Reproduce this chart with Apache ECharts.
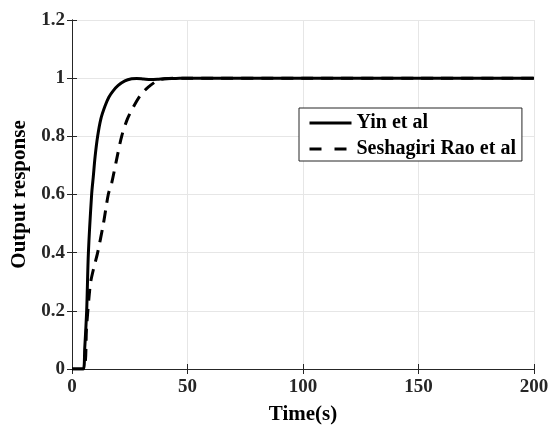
<!DOCTYPE html>
<html>
<head>
<meta charset="utf-8">
<script src="https://cdn.jsdelivr.net/npm/echarts@6/dist/echarts.min.js"></script>
<style>html,body{margin:0;padding:0;background:#fff}#c{width:557px;height:430px}</style>
</head>
<body>
<div id="c"></div>
<script>
var seriesNames = ['Yin et al', 'Seshagiri Rao et al'];
var yinTime = [0, 4.9, 5.5, 6.35, 7.1, 8.5, 9.2, 10, 11.1, 12.5, 14.3, 16, 17.9, 20, 22.9, 25.8, 28, 31, 34, 37, 40, 45, 50, 100, 150, 200];
var yinValue = [0, 0, 0.07, 0.2, 0.4, 0.6, 0.66, 0.73, 0.8, 0.86, 0.904, 0.935, 0.957, 0.975, 0.991, 0.998, 0.999, 0.997, 0.995, 0.996, 0.998, 0.999, 1.0, 1.0, 1.0, 1.0];
var raoTime = [0, 4.9, 6.35, 7.4, 8.1, 9.5, 11.1, 13.6, 15.7, 17.2, 19.3, 21.5, 24, 26.5, 29.5, 33, 37.4, 42, 50, 100, 150, 200];
var raoValue = [0, 0, 0.15, 0.25, 0.3, 0.35, 0.4, 0.5, 0.6, 0.64, 0.72, 0.8, 0.86, 0.9, 0.94, 0.969, 0.993, 0.999, 1, 1, 1, 1];
var xTicks = [0, 50, 100, 150, 200];
var yTicks = [0, 0.2, 0.4, 0.6, 0.8, 1, 1.2];

function pairs(t, v) { return t.map(function (x, i) { return [x, v[i]]; }); }

var font = 'Liberation Serif, Times New Roman, serif';
var chart = echarts.init(document.getElementById('c'), null, {renderer: 'canvas'});
var axisLine = {show: true, lineStyle: {color: '#262626', width: 1}};
chart.setOption({
  animation: false,
  backgroundColor: '#fff',
  grid: {left: 72, right: 23, top: 20, bottom: 57, containLabel: false},
  legend: {
    orient: 'vertical', left: 299, top: 108,
    padding: [5, 6, 2, 9],
    itemWidth: 42, itemHeight: 20, itemGap: 6,
    borderColor: '#262626', borderWidth: 1, backgroundColor: '#fff',
    itemStyle: {opacity: 0, borderWidth: 0},
    lineStyle: {width: 3, color: '#000'},
    textStyle: {fontFamily: font, fontWeight: 'bold', fontSize: 20, color: '#000', lineHeight: 20},
    data: [{name: seriesNames[0]}, {name: seriesNames[1], lineStyle: {type: [12, 13], width: 3, color: '#000'}}]
  },
  xAxis: [{
    type: 'value', min: xTicks[0], max: xTicks[xTicks.length - 1], interval: 50,
    name: 'Time(s)', nameLocation: 'middle', nameGap: 35,
    nameTextStyle: {fontFamily: font, fontWeight: 'bold', fontSize: 21, color: '#000'},
    axisLine: axisLine,
    axisTick: {show: true, inside: true, length: 5, lineStyle: {color: '#262626'}},
    axisLabel: {fontFamily: font, fontWeight: 'bold', fontSize: 19, color: '#262626', margin: 9},
    splitLine: {show: true, lineStyle: {color: '#e6e6e6', width: 1}}
  }, {
    type: 'value', position: 'top', min: xTicks[0], max: xTicks[xTicks.length - 1], interval: 50,
    axisLine: axisLine,
    axisTick: {show: true, inside: true, length: 5, lineStyle: {color: '#262626'}},
    axisLabel: {show: false}, splitLine: {show: false}
  }],
  yAxis: [{
    type: 'value', min: yTicks[0], max: yTicks[yTicks.length - 1], interval: 0.2,
    name: 'Output response', nameLocation: 'middle', nameGap: 37, nameRotate: 90,
    nameTextStyle: {fontFamily: font, fontWeight: 'bold', fontSize: 21, color: '#000'},
    axisLine: axisLine,
    axisTick: {show: true, inside: true, length: 5, lineStyle: {color: '#262626'}},
    axisLabel: {fontFamily: font, fontWeight: 'bold', fontSize: 19, color: '#262626', margin: 7},
    splitLine: {show: true, lineStyle: {color: '#e6e6e6', width: 1}}
  }, {
    type: 'value', position: 'right', min: yTicks[0], max: yTicks[yTicks.length - 1], interval: 0.2,
    axisLine: axisLine,
    axisTick: {show: true, inside: true, length: 5, lineStyle: {color: '#262626'}},
    axisLabel: {show: false}, splitLine: {show: false}
  }],
  series: [{
    name: seriesNames[0], type: 'line', xAxisIndex: 0, yAxisIndex: 0,
    data: pairs(yinTime, yinValue), symbol: 'none', smooth: 0.3,
    lineStyle: {color: '#000', width: 3, type: 'solid'}, itemStyle: {color: '#000'}, z: 3
  }, {
    name: seriesNames[1], type: 'line', xAxisIndex: 0, yAxisIndex: 0,
    data: pairs(raoTime, raoValue), symbol: 'none', smooth: 0.3,
    lineStyle: {color: '#000', width: 3, type: [12, 8]}, itemStyle: {color: '#000'}, z: 4
  }]
});
</script>
</body>
</html>
